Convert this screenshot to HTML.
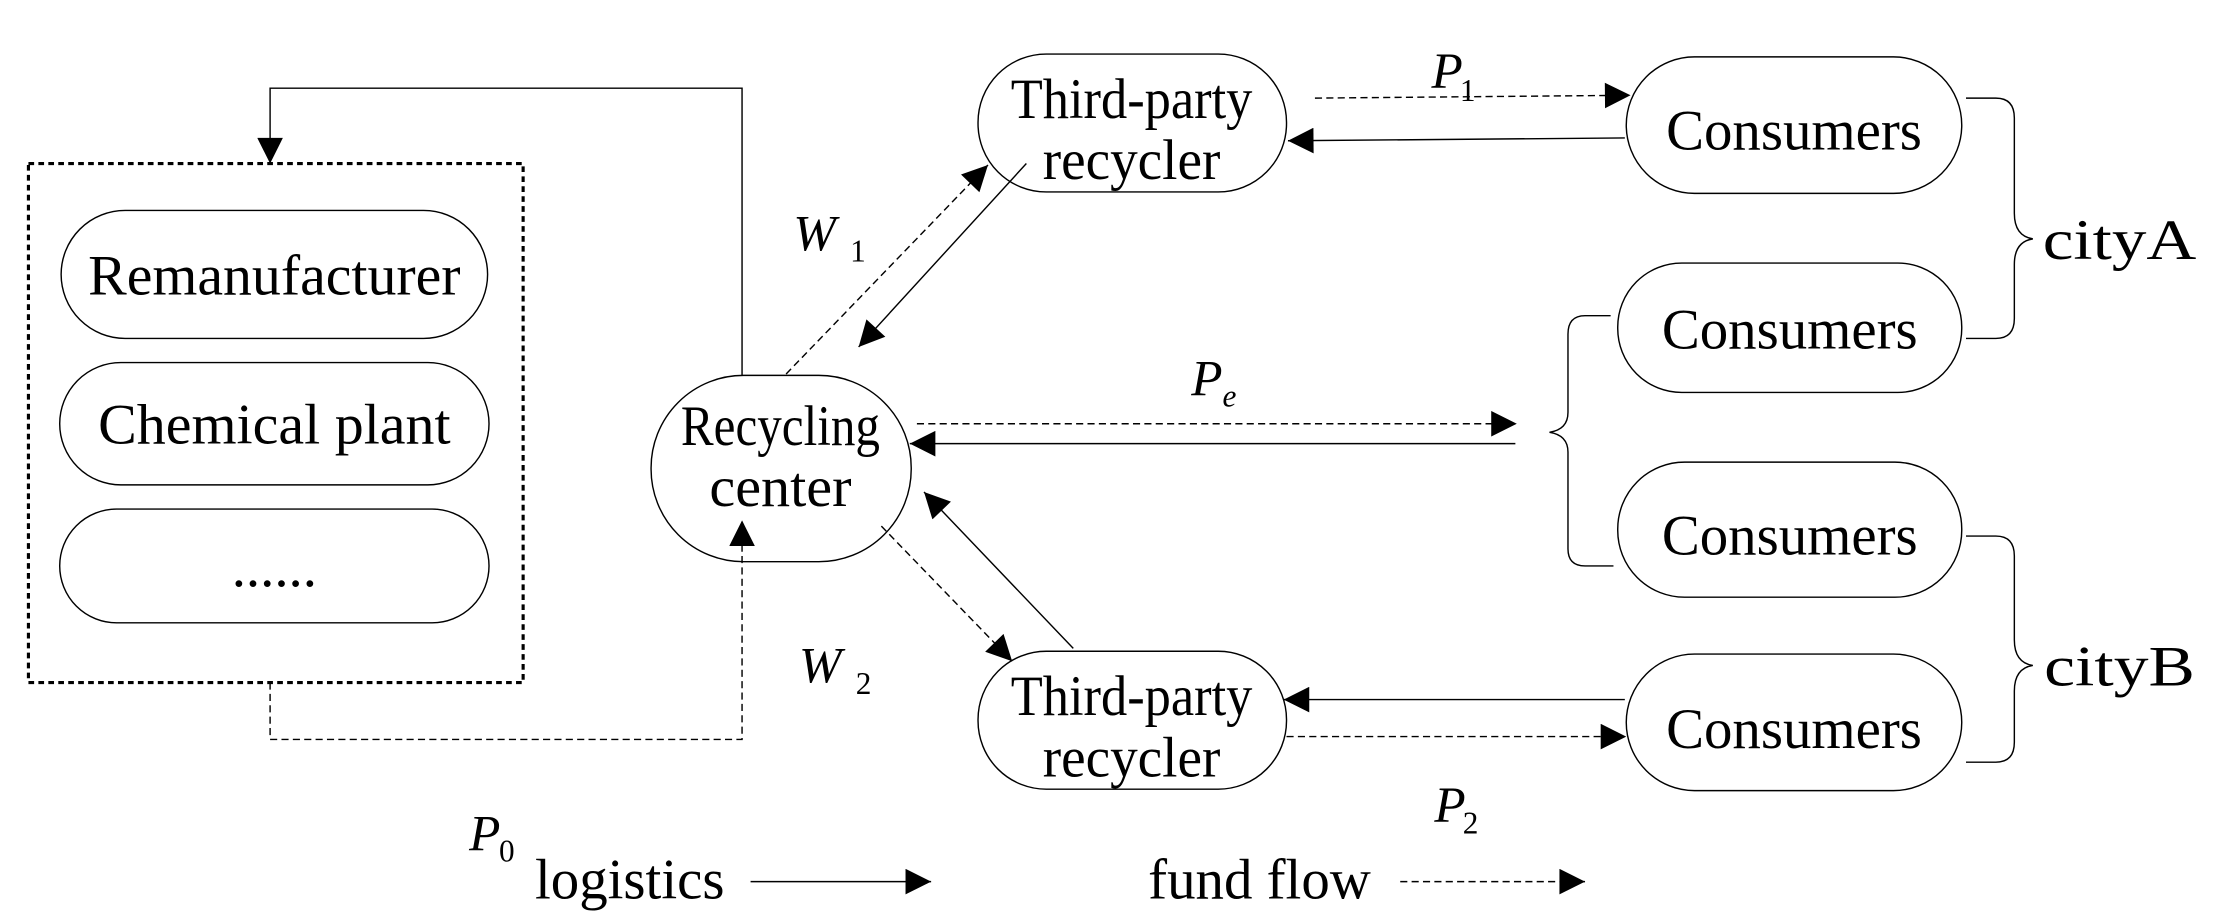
<!DOCTYPE html>
<html><head><meta charset="utf-8"><style>html,body{margin:0;padding:0;background:#fff}svg{display:block}</style></head>
<body>
<svg width="2229" height="920" viewBox="0 0 1568 647" preserveAspectRatio="none" xmlns="http://www.w3.org/2000/svg" font-family="Liberation Serif, serif" fill="none" stroke="#000">
<defs>
<marker id="a" viewBox="0 0 10 10" refX="10" refY="5" markerWidth="26" markerHeight="18" markerUnits="userSpaceOnUse" orient="auto"><path d="M0,0 L10,5 L0,10 z" fill="#000" stroke="none"/></marker>
</defs>
<rect x="20" y="115" width="348" height="365" stroke-width="2.2" stroke-dasharray="4,3"/>
<rect x="43" y="148" width="300" height="90" rx="45" stroke-width="1"/>
<rect x="42" y="255" width="302" height="86" rx="43" stroke-width="1"/>
<rect x="42" y="358" width="302" height="80" rx="40" stroke-width="1"/>
<rect x="458" y="264" width="183" height="131" rx="65" stroke-width="1"/>
<rect x="688" y="38" width="217" height="97" rx="48" stroke-width="1"/>
<rect x="688" y="458" width="217" height="97" rx="48" stroke-width="1"/>
<rect x="1144" y="40" width="236" height="96" rx="48" stroke-width="1"/>
<rect x="1138" y="185" width="242" height="91" rx="45" stroke-width="1"/>
<rect x="1138" y="325" width="242" height="95" rx="47" stroke-width="1"/>
<rect x="1144" y="460" width="236" height="96" rx="48" stroke-width="1"/>
<path d="M522,264 V62 H190 V115" stroke-width="1" marker-end="url(#a)"/>
<path d="M190,480 V520 H522 V366" stroke-width="1" stroke-dasharray="5,3" marker-end="url(#a)"/>
<path d="M553,263 L695,116" stroke-width="1" stroke-dasharray="5,3" marker-end="url(#a)"/>
<path d="M722,115 L604,244" stroke-width="1" marker-end="url(#a)"/>
<path d="M620,370 L712,465" stroke-width="1" stroke-dasharray="5,3" marker-end="url(#a)"/>
<path d="M755,456 L650,346" stroke-width="1" marker-end="url(#a)"/>
<path d="M925,69 L1147,67" stroke-width="1" stroke-dasharray="5,3" marker-end="url(#a)"/>
<path d="M1143,97 L906,99" stroke-width="1" marker-end="url(#a)"/>
<path d="M1143,492 L903,492" stroke-width="1" marker-end="url(#a)"/>
<path d="M905,518 L1144,518" stroke-width="1" stroke-dasharray="5,3" marker-end="url(#a)"/>
<path d="M645,298 L1067,298" stroke-width="1" stroke-dasharray="5,3" marker-end="url(#a)"/>
<path d="M1066,312 L640,312" stroke-width="1" marker-end="url(#a)"/>
<path d="M1133,222 H1115 Q1103,222 1103,235 V290 Q1103,302 1090,304 Q1103,306 1103,318 V386 Q1103,398 1115,398 H1135" stroke-width="1"/>
<path d="M1383,69 H1404 Q1417,69 1417,83 V150 Q1417,166 1430,168 Q1417,170 1417,186 V224 Q1417,238 1404,238 H1383" stroke-width="1"/>
<path d="M1383,377 H1404 Q1417,377 1417,391 V450 Q1417,466 1430,468 Q1417,470 1417,486 V522 Q1417,536 1404,536 H1383" stroke-width="1"/>
<path d="M528,620 L655,620" stroke-width="1" marker-end="url(#a)"/>
<path d="M985,620 L1115,620" stroke-width="1" stroke-dasharray="5,3" marker-end="url(#a)"/>
<g fill="#000" stroke="none" font-size="40" text-anchor="middle">
<text x="193" y="207" textLength="262" lengthAdjust="spacingAndGlyphs">Remanufacturer</text>
<text x="193" y="312" textLength="248" lengthAdjust="spacingAndGlyphs">Chemical plant</text>
<text x="193" y="412">......</text>
<text x="549" y="313" textLength="140" lengthAdjust="spacingAndGlyphs">Recycling</text>
<text x="549" y="356" textLength="100" lengthAdjust="spacingAndGlyphs">center</text>
<text x="796" y="83" textLength="170" lengthAdjust="spacingAndGlyphs">Third-party</text>
<text x="796" y="126" textLength="125" lengthAdjust="spacingAndGlyphs">recycler</text>
<text x="796" y="503" textLength="170" lengthAdjust="spacingAndGlyphs">Third-party</text>
<text x="796" y="546" textLength="125" lengthAdjust="spacingAndGlyphs">recycler</text>
<text x="1262" y="105">Consumers</text>
<text x="1259" y="245">Consumers</text>
<text x="1259" y="390">Consumers</text>
<text x="1262" y="526">Consumers</text>
<text x="1491" y="182" textLength="108" lengthAdjust="spacingAndGlyphs">cityA</text>
<text x="1491" y="482" textLength="106" lengthAdjust="spacingAndGlyphs">cityB</text>
<text x="443" y="632">logistics</text>
<text x="886" y="632">fund flow</text>
</g>
<g fill="#000" stroke="none" font-size="36" font-style="italic">
<text x="1007" y="62">P</text><text x="1027" y="71" font-size="22" font-style="normal">1</text>
<text x="558" y="176">W</text><text x="598" y="184" font-size="22" font-style="normal">1</text>
<text x="838" y="278">P</text><text x="860" y="286" font-size="22">e</text>
<text x="562" y="480">W</text><text x="602" y="488" font-size="22" font-style="normal">2</text>
<text x="1009" y="578">P</text><text x="1029" y="586" font-size="22" font-style="normal">2</text>
<text x="330" y="598">P</text><text x="351" y="606" font-size="22" font-style="normal">0</text>
</g>
</svg>
</body></html>
